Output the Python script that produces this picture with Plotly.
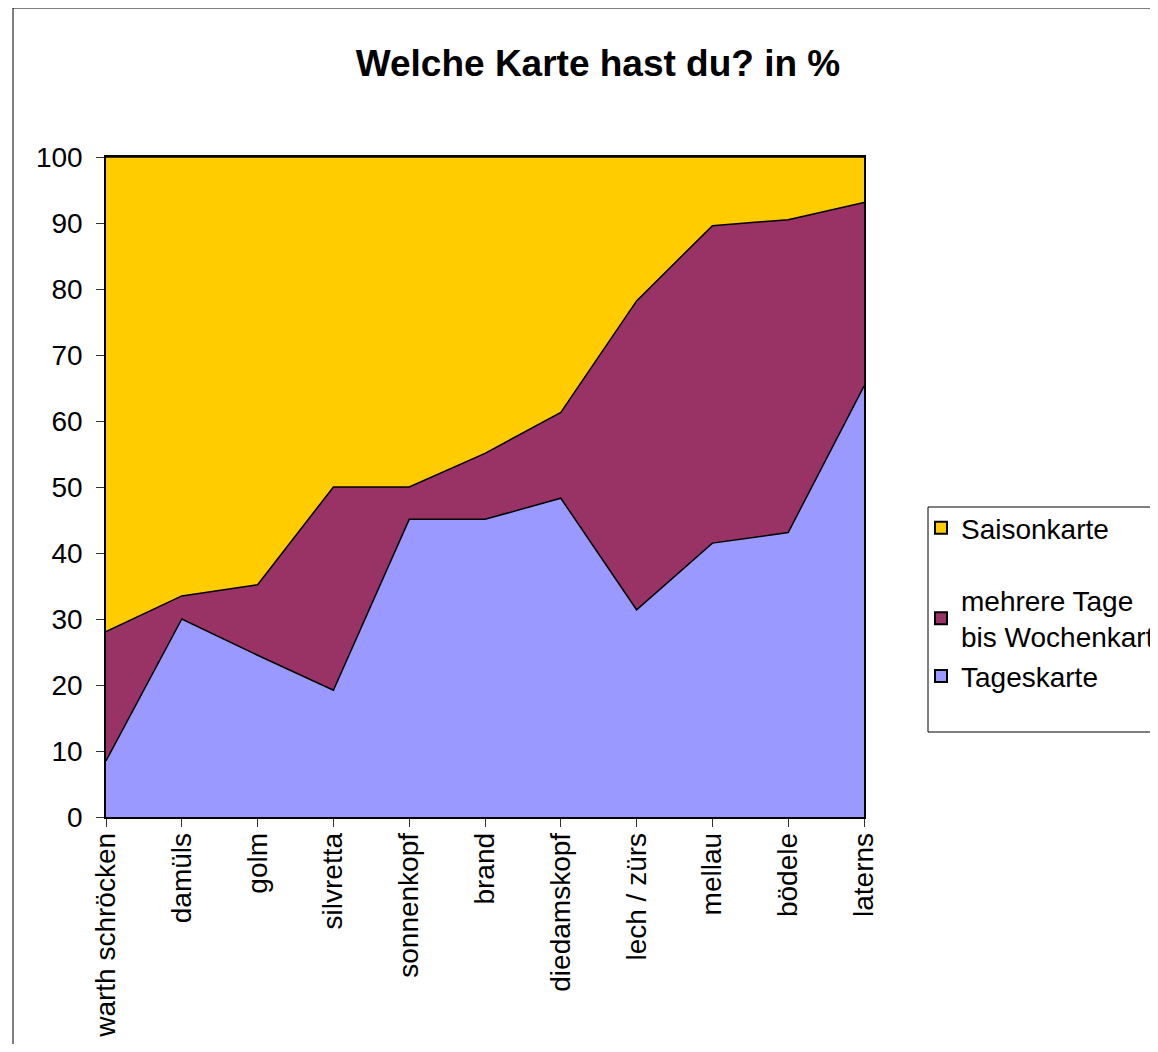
import plotly.graph_objects as go

categories = ["warth schröcken", "damüls", "golm", "silvretta", "sonnenkopf", "brand",
              "diedamskopf", "lech / zürs", "mellau", "bödele", "laterns"]
tageskarte = [8.5, 30.0, 24.5, 19.2, 45.1, 45.1, 48.3, 31.4, 41.5, 43.1, 65.3]
mehrere = [19.6, 3.5, 10.7, 30.8, 4.9, 10.0, 13.0, 46.8, 48.1, 47.4, 27.8]
saison = [71.9, 66.5, 64.8, 50.0, 50.0, 44.9, 38.7, 21.8, 10.4, 9.5, 6.9]

names = ["Tageskarte", "mehrere Tage<br>bis Wochenkarte", "Saisonkarte"]
colors = ["#9999FF", "#993366", "#FFCC00"]
series = [tageskarte, mehrere, saison]

FONT = "Liberation Sans, Arial, sans-serif"
FS = 28
fig = go.Figure()
for name, col, vals in zip(names, colors, series):
    fig.add_trace(go.Scatter(
        x=categories, y=vals, name=name, stackgroup="one", mode="lines",
        line=dict(color="black", width=1.5), fillcolor=col, showlegend=False,
        hoverinfo="x+y+name"))

# legend-only entries (square glyphs)
legend_order = [("Saisonkarte", "#FFCC00", "a"),
                ("mehrere Tage<br>bis Wochenkarte", "#993366", "b"),
                ("Tageskarte", "#9999FF", "b")]
for name, col, grp in legend_order:
    fig.add_trace(go.Scatter(
        x=[None], y=[None], mode="markers", name=name, legendgroup=grp,
        marker=dict(symbol="square", size=14, color=col, line=dict(color="black", width=1.2))))

# page body has an 8px margin; work in reference pixel coordinates and shift
OFF = 8
W, H = 1158 - 2 * OFF, 1052 - 2 * OFF
L, R, T, B = 106 - OFF, 864 - OFF, 157 - OFF, 817 - OFF
pw, ph = R - L, B - T
def px(x): return (x - OFF - L) / pw
def py(y): return (B - (y - OFF)) / ph

fig.update_layout(
    width=W, height=H,
    margin=dict(l=L, r=W - R, t=T, b=H - B, autoexpand=False),
    paper_bgcolor="white", plot_bgcolor="white",
    font=dict(family=FONT, size=FS, color="black"),
    title=dict(text="<b>Welche Karte hast du? in %</b>", x=(598 - OFF) / W, xref="container",
               xanchor="center", y=1 - (63 - OFF) / H, yanchor="middle", yref="container",
               font=dict(family=FONT, size=37, color="black")),
    xaxis=dict(type="category", range=[0, len(categories) - 1], tickangle=-90,
               showline=True, linecolor="black", linewidth=1.5, mirror=True,
               ticks="outside", ticklen=8, tickcolor="#333333", tickwidth=1,
               showgrid=False, zeroline=False, ticklabelstandoff=-5,
               tickfont=dict(family=FONT, size=FS, color="black")),
    yaxis=dict(range=[0, 100], dtick=10, showline=True, linecolor="black", linewidth=1.5,
               mirror=True, ticks="outside", ticklen=8, tickcolor="#333333", tickwidth=1,
               showgrid=False, zeroline=False, ticklabelstandoff=8,
               tickfont=dict(family=FONT, size=FS, color="black")),
    legend=dict(x=px(921), xanchor="left", y=py(503), yanchor="top",
                traceorder="grouped", tracegroupgap=33, bgcolor="rgba(0,0,0,0)",
                borderwidth=0, font=dict(family=FONT, size=FS, color="black"),
                itemsizing="constant"),
    shapes=[
        dict(type="rect", xref="paper", yref="paper", x0=px(13), x1=px(1200),
             y0=py(1100), y1=py(OFF), line=dict(color="black", width=1), fillcolor="rgba(0,0,0,0)",
             layer="below"),
        dict(type="rect", xref="paper", yref="paper", x0=px(928), x1=px(1200),
             y0=py(732), y1=py(507), line=dict(color="black", width=1), fillcolor="white",
             layer="below"),
    ],
)

fig.write_html("out.html")
